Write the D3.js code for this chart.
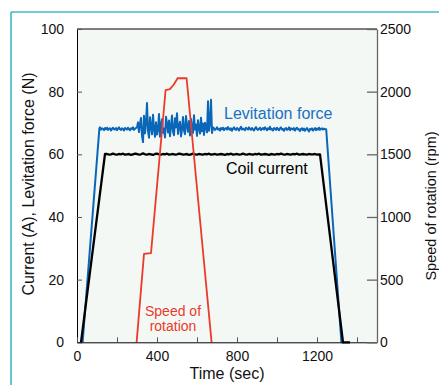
<!DOCTYPE html>
<html><head><meta charset="utf-8">
<script src="https://cdn.jsdelivr.net/npm/d3@7"></script>
<style>
body{margin:0;background:#fff;}
svg{display:block;font-family:"Liberation Sans",Arial,sans-serif;}
</style></head>
<body>
<svg id="c" width="439" height="385"></svg>
<script>
// ---- data ----
const leftTicks = [0, 20, 40, 60, 80, 100];
const rightTicks = [0, 500, 1000, 1500, 2000, 2500];
const xTicks = [0, 200, 400, 600, 800, 1000, 1200, 1400];
const xTickLabels = [0, 400, 800, 1200];

// Levitation force (N): ramp up, quiet, noisy (during rotation), quiet, ramp down
const levRampUp = [[28, 0], [112, 68.3]];
const levQuiet1Start = 115, levQuiet1Step = 5;
const levQuiet1 = [68.6, 67.9, 68.3, 68.1, 67.7, 68.4, 68.0, 68.5, 67.8, 68.2,
  68.3, 67.6, 68.1, 68.5, 68.0, 67.9, 68.4, 67.7, 68.2, 68.6,
  68.0, 67.8, 68.3, 68.1, 67.6, 68.4, 68.2, 67.9, 68.5, 68.0,
  67.7, 68.3, 68.1, 68.6, 67.8, 68.2, 68.4];
const levNoisyStart = 300, levNoisyStep = 5;
const levNoisy = [68.6, 70.2, 67.1, 69.8, 71.6, 65.9, 63.9, 72.3, 66.7, 70.1,
  76.4, 67.5, 65.3, 71.8, 69.0, 66.4, 72.6, 68.1, 65.6, 70.2,
  66.3, 67.8, 72.9, 65.6, 69.4, 71.2, 66.9, 68.2, 65.4, 72.0,
  69.6, 67.0, 70.8, 65.8, 68.9, 72.4, 67.3, 66.1, 71.5, 68.6,
  73.1, 66.5, 69.2, 70.4, 65.7, 68.0, 71.9, 67.6, 66.4, 72.2,
  69.1, 67.2, 70.6, 66.0, 71.3, 68.4, 66.8, 72.5, 67.9, 69.5,
  65.9, 70.9, 68.3, 66.6, 71.7, 67.4, 69.8, 66.2, 70.1, 68.7,
  67.0, 76.9, 67.5, 69.9, 77.4, 66.8, 68.6];
const levQuiet2Start = 685, levQuiet2Step = 5;
const levQuiet2 = [68.3, 67.8, 68.1, 68.6, 67.9, 68.2, 67.6, 68.4, 68.0, 68.5,
  67.7, 68.2, 68.4, 67.9, 68.7, 68.1, 67.8, 68.3, 67.5, 68.2,
  68.6, 68.0, 67.8, 68.4, 68.1, 67.6, 68.3, 68.8, 67.9, 68.2,
  68.0, 67.7, 68.5, 68.2, 67.9, 68.6, 68.1, 67.8, 68.4, 68.0,
  67.6, 68.3, 68.7, 68.0, 67.8, 68.2, 68.5, 67.7, 68.1, 68.4,
  67.9, 68.6, 68.2, 67.7, 68.3, 68.0, 68.8, 67.9, 68.1, 67.6,
  68.4, 68.2, 67.8, 68.5, 68.0, 67.7, 68.3, 68.6, 67.9, 68.1,
  67.5, 68.2, 68.4, 67.8, 68.0, 68.6, 67.7, 68.3, 68.1, 67.9,
  68.4, 67.6, 68.2, 68.5, 67.9, 68.0, 67.4, 68.1, 68.3, 67.7,
  68.2, 67.5, 68.0, 68.4, 67.8, 67.3, 68.1, 67.9, 68.3, 67.6,
  68.0, 68.4, 67.7, 68.2, 67.9, 68.5, 67.8, 68.1, 68.3, 67.9,
  68.2, 68.0];
const levRampDown = [[1246, 68.0], [1322, 0], [1335, 0]];

// Coil current (A)
const coilRampUp = [[20, 0], [140, 60.1]];
const coilFlatStart = 150, coilFlatStep = 10;
const coilFlat = [60.1, 59.9, 60.0, 60.2, 60.0, 59.9, 60.1, 60.0, 60.2, 59.9,
  60.0, 60.1, 59.8, 60.0, 60.2, 60.1, 59.9, 60.0, 60.3, 60.0,
  59.9, 60.1, 60.0, 59.8, 60.1, 60.2, 60.0, 59.9, 60.1, 60.0,
  60.2, 59.9, 60.0, 60.1, 59.9, 60.0, 60.2, 60.1, 59.9, 60.0,
  60.1, 59.8, 60.0, 60.2, 60.0, 59.9, 60.1, 60.0, 59.9, 60.1,
  60.0, 60.2, 59.9, 60.0, 60.1, 59.9, 60.0, 60.1, 60.0, 59.8,
  60.1, 60.0, 60.2, 59.9, 60.0, 60.1, 59.9, 60.0, 60.2, 60.0,
  59.9, 60.1, 60.0, 59.9, 60.1, 60.0, 60.2, 59.9, 60.0, 60.1,
  60.0, 59.8, 60.1, 60.0, 59.9, 60.1, 60.0, 60.2, 60.0, 59.9,
  60.1, 60.0, 59.9, 60.1, 60.0, 60.2, 59.9, 60.0, 60.1, 60.0,
  59.9, 60.1, 60.0, 60.0, 60.1, 59.9, 60.0];
const coilRampDown = [[1215, 60.0], [1330, 0], [1365, 0]];

// Speed of rotation (rpm)
const speedTime = [298, 335, 370, 443, 465, 482, 498, 502, 548, 673];
const speedRpm  = [0, 705, 712, 2013, 2020, 2053, 2093, 2107, 2107, 0];

// ---- build ----
const svg = d3.select("#c");
const L = 77, R = 377, T = 29, B = 342.3;
const x = d3.scaleLinear().domain([0, 1500]).range([L, R]);
const yL = d3.scaleLinear().domain([0, 100]).range([B, T]);
const yR = d3.scaleLinear().domain([0, 2500]).range([B, T]);

// teal frame
svg.append("line").attr("x1", 11).attr("x2", 439).attr("y1", 12).attr("y2", 12)
  .attr("stroke", "#3cbcc4").attr("stroke-width", 1.6);
svg.append("line").attr("x1", 11).attr("x2", 11).attr("y1", 12).attr("y2", 385)
  .attr("stroke", "#3cbcc4").attr("stroke-width", 1.6);

// plot background
svg.append("rect").attr("x", L).attr("y", T).attr("width", R - L).attr("height", B - T)
  .attr("fill", "#f3f8f5");

function seq(start, step, vals) { return vals.map((v, i) => [start + i * step, v]); }

const levData = [].concat(levRampUp,
  seq(levQuiet1Start, levQuiet1Step, levQuiet1),
  seq(levNoisyStart, levNoisyStep, levNoisy),
  seq(levQuiet2Start, levQuiet2Step, levQuiet2),
  levRampDown);
const coilData = [].concat(coilRampUp, seq(coilFlatStart, coilFlatStep, coilFlat), coilRampDown);
const speedData = speedTime.map((t, i) => [t, speedRpm[i]]);

const lineL = d3.line().x(d => x(d[0])).y(d => yL(d[1]));
const lineR = d3.line().x(d => x(d[0])).y(d => yR(d[1]));

svg.append("path").datum(levData).attr("d", lineL).attr("fill", "none")
  .attr("stroke", "#0a66b8").attr("stroke-width", 2).attr("stroke-linejoin", "round");
svg.append("path").datum(coilData).attr("d", lineL).attr("fill", "none")
  .attr("stroke", "#000").attr("stroke-width", 2.3).attr("stroke-linejoin", "round");
svg.append("path").datum(speedData).attr("d", lineR).attr("fill", "none")
  .attr("stroke", "#ec3a2a").attr("stroke-width", 1.8).attr("stroke-linejoin", "round");

// top border
svg.append("line").attr("x1", L).attr("x2", R).attr("y1", T).attr("y2", T)
  .attr("stroke", "#000").attr("stroke-width", 1);

// axes
const axL = svg.append("g").attr("transform", `translate(${L},0)`)
  .call(d3.axisLeft(yL).tickValues(leftTicks).tickSize(-5).tickSizeOuter(0).tickPadding(13));
const axB = svg.append("g").attr("transform", `translate(0,${B})`)
  .call(d3.axisBottom(x).tickValues(xTicks).tickSize(-5).tickSizeOuter(0).tickPadding(9)
    .tickFormat(d => xTickLabels.includes(d) ? d : ""));
const axR = svg.append("g").attr("transform", `translate(${R},0)`)
  .call(d3.axisRight(yR).tickValues(rightTicks).tickSize(-10).tickSizeOuter(0).tickPadding(3)
    .tickFormat(d3.format("d")));

[axL, axB, axR].forEach(g => {
  g.selectAll("text").attr("font-size", 14).attr("fill", "#111")
    .attr("font-family", "Liberation Sans, Arial, sans-serif");
});
axL.select(".domain").attr("stroke", "#000");
axB.select(".domain").attr("stroke", "#000");
axR.select(".domain").attr("stroke", "#666").attr("stroke-width", 1.3);
axR.selectAll(".tick line").attr("stroke", "#666").attr("stroke-width", 1.3);
axL.selectAll(".tick line").attr("stroke", "#555");
axB.selectAll(".tick line").attr("stroke", "#555");

// axis titles
svg.append("text").attr("transform", "translate(34,184) rotate(-90)")
  .attr("text-anchor", "middle").attr("font-size", 16).attr("fill", "#111")
  .text("Current (A), Levitation force (N)");
svg.append("text").attr("transform", "translate(436,206) rotate(-90)")
  .attr("text-anchor", "middle").attr("font-size", 14.5).attr("fill", "#111")
  .text("Speed of rotation (rpm)");
svg.append("text").attr("x", 227).attr("y", 379)
  .attr("text-anchor", "middle").attr("font-size", 16).attr("fill", "#111")
  .text("Time (sec)");

// series labels
svg.append("text").attr("x", 224).attr("y", 119).attr("font-size", 16)
  .attr("fill", "#1a70c2").text("Levitation force");
svg.append("text").attr("x", 226).attr("y", 174).attr("font-size", 16)
  .attr("fill", "#000").text("Coil current");
svg.append("text").attr("x", 173).attr("y", 316).attr("font-size", 14)
  .attr("text-anchor", "middle").attr("fill", "#ec3a2a").text("Speed of");
svg.append("text").attr("x", 173).attr("y", 331).attr("font-size", 14)
  .attr("text-anchor", "middle").attr("fill", "#ec3a2a").text("rotation");
</script>
</body></html>
